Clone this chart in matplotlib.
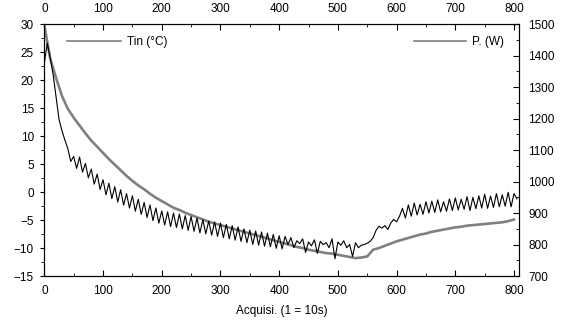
import numpy as np
import matplotlib
matplotlib.use("Agg")
import matplotlib.pyplot as plt
from matplotlib.lines import Line2D
from matplotlib.ticker import MultipleLocator

plt.rcParams["font.family"] = ["Liberation Sans", "DejaVu Sans"]
plt.rcParams["font.size"] = 8.5

# Tin (°C), one reading every 10 acquisitions
tin_acq = np.arange(0, 810, 10)
tin = [29.8, 23.9, 20.4, 17.2, 14.9, 13.3, 11.9, 10.5, 9.2, 8.1,
       7.0, 5.9, 4.9, 3.9, 2.9, 2.0, 1.2, 0.5, -0.3, -1.0,
       -1.6, -2.2, -2.8, -3.2, -3.7, -4.1, -4.5, -4.9, -5.3, -5.6,
       -5.9, -6.2, -6.5, -6.8, -7.1, -7.4, -7.7, -8.0, -8.3, -8.6,
       -8.9, -9.2, -9.5, -9.8, -10.0, -10.3, -10.5, -10.7, -10.9, -11.0,
       -11.2, -11.4, -11.6, -11.8, -11.7, -11.5, -10.3, -10.0, -9.6, -9.2,
       -8.8, -8.5, -8.2, -7.9, -7.6, -7.4, -7.1, -6.9, -6.7, -6.5,
       -6.3, -6.2, -6.0, -5.9, -5.8, -5.7, -5.6, -5.5, -5.4, -5.2,
       -4.9]

# P (W), one reading every 5 acquisitions
p_acq = np.arange(0, 810, 5)
p = [1376, 1440, 1393, 1340, 1269, 1198, 1162, 1132, 1105, 1064,
     1080, 1042, 1078, 1030, 1058, 1012, 1040, 992, 1024, 975,
     1006, 958, 995, 946, 984, 935, 974, 925, 962, 916,
     955, 906, 944, 896, 934, 886, 926, 876, 916, 868,
     907, 862, 904, 857, 900, 854, 897, 850, 892, 845,
     889, 842, 884, 837, 879, 834, 875, 830, 872, 826,
     868, 822, 864, 818, 860, 814, 856, 810, 850, 806,
     846, 800, 843, 798, 840, 795, 836, 793, 832, 788,
     828, 786, 826, 800, 822, 790, 812, 803, 818, 775,
     808, 796, 815, 772, 810, 800, 806, 790, 818, 755,
     808, 798, 812, 790, 800, 762, 806, 790, 798, 800,
     804, 810, 822, 845, 858, 852, 860, 848, 868, 880,
     872, 890, 915, 884, 926, 890, 932, 894, 928, 896,
     936, 900, 938, 902, 942, 904, 936, 906, 945, 908,
     948, 910, 944, 912, 952, 908, 950, 914, 955, 916,
     960, 915, 954, 918, 962, 920, 958, 922, 966, 920,
     962, 945]

gray = "#808080"

fig = plt.figure(figsize=(5.64, 3.28), dpi=100)
ax = fig.add_axes([0.0786, 0.1585, 0.8411, 0.7675])
ax2 = ax.twinx()

ax.plot(tin_acq, tin, color=gray, lw=1.9)
ax2.plot(p_acq, p, color="black", lw=0.8)

ax.set_xlim(0, 808)
ax.set_ylim(-15, 30)
ax2.set_ylim(700, 1500)

ax.xaxis.set_major_locator(MultipleLocator(100))
ax.xaxis.set_minor_locator(MultipleLocator(50))
ax.yaxis.set_major_locator(MultipleLocator(5))
ax.yaxis.set_minor_locator(MultipleLocator(2.5))
ax2.yaxis.set_major_locator(MultipleLocator(100))
ax2.yaxis.set_minor_locator(MultipleLocator(50))

# ticks: x in (top and bottom), left y out, right y in
ax.tick_params(axis="x", which="both", direction="in", top=True, bottom=True,
               labeltop=True, labelbottom=True)
ax.tick_params(axis="x", which="major", length=4, pad=6.5)
ax.tick_params(axis="x", which="minor", length=2.5)
ax.tick_params(axis="y", which="both", direction="out", left=True, right=False)
ax.tick_params(axis="y", which="major", length=3, pad=4.5)
ax.tick_params(axis="y", which="minor", length=2)
ax2.tick_params(axis="y", which="both", direction="in")
ax2.tick_params(axis="y", which="major", length=4, pad=7)
ax2.tick_params(axis="y", which="minor", length=2.5)

for a in (ax, ax2):
    for s in a.spines.values():
        s.set_linewidth(0.8)

ax.set_xlabel("Acquisi. (1 = 10s)", labelpad=6)

ax.legend([Line2D([], [], color=gray, lw=1.2)], ["Tin (°C)"], loc="upper left",
          bbox_to_anchor=(0.048, 0.953), frameon=False, borderpad=0,
          borderaxespad=0, handlelength=4.6, handletextpad=0.5)
ax2.legend([Line2D([], [], color=gray, lw=1.2)], ["P. (W)"], loc="upper right",
           bbox_to_anchor=(0.969, 0.953), frameon=False, borderpad=0,
           borderaxespad=0, handlelength=4.4, handletextpad=0.5)

fig.savefig("out.png", dpi=100)
